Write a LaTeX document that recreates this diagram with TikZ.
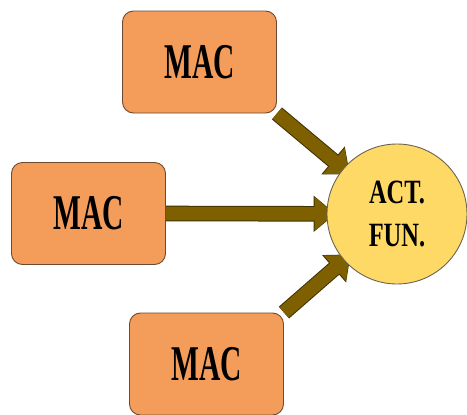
\documentclass[tikz,border=0pt]{standalone}
\usepackage{fontspec}
\setmainfont{Liberation Serif}
\usetikzlibrary{arrows.meta,backgrounds}
\definecolor{macfill}{HTML}{F49C5A}
\definecolor{macedge}{HTML}{6E4A30}
\definecolor{funfill}{HTML}{FFD966}
\definecolor{funedge}{HTML}{6B6450}
\definecolor{flow}{HTML}{7F6000}
\definecolor{flowedge}{HTML}{3F3000}
\begin{document}
\begin{tikzpicture}[x=1pt,y=-1pt,
  macbox/.style={draw=macedge,line width=0.9pt,fill=macfill,rounded corners=11pt,
    minimum width=154pt,minimum height=102pt,inner sep=0pt,
    font=\bfseries\fontsize{50}{50}\selectfont},
  actnode/.style={circle,draw=funedge,line width=0.9pt,fill=funfill,
    minimum size=140pt,inner sep=0pt,align=center,
    font=\bfseries\fontsize{34}{43}\selectfont},
  % a feed arrow is drawn twice: a dark rim, then the fill on top
  feedrim/.style={draw=flowedge,line width=15.6pt,shorten >=-9pt,
    -{Triangle[width=35pt,length=22pt]}},
  feedcore/.style={draw=flow,line width=13.6pt,shorten >=-8pt,
    -{Triangle[width=32.5pt,length=20pt]}}]
\useasboundingbox (0,0) rectangle (467,415);
\node[macbox] (top) at (199.5,62) {\scalebox{0.59}[1]{MAC}};
\node[macbox] (mid) at (88.5,213.5) {\scalebox{0.59}[1]{MAC}};
\node[macbox] (bot) at (206.5,364) {\scalebox{0.59}[1]{MAC}};
\node[actnode] (fun) at (397,214) {\scalebox{0.72}[1]{ACT.}\\\scalebox{0.72}[1]{FUN.}};
\begin{scope}[on background layer]
  \foreach \src/\anc in {top/south east,mid/east,bot/north east}{
    \draw[feedrim] (\src.\anc) -- (fun);
    \draw[feedcore] (\src.\anc) -- (fun);
  }
\end{scope}
\end{tikzpicture}
\end{document}
